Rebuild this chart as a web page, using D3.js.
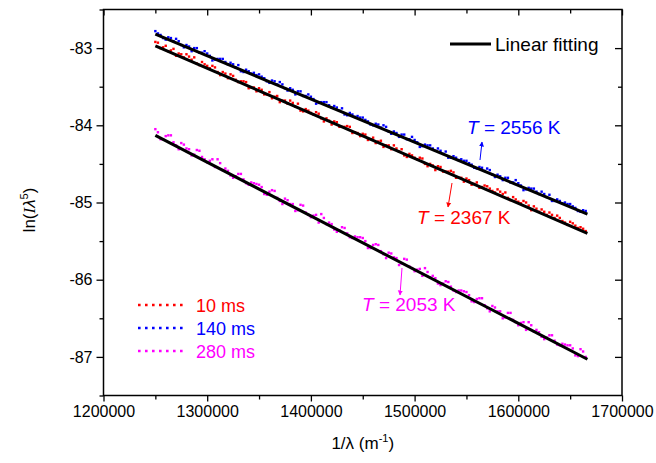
<!DOCTYPE html>
<html><head><meta charset="utf-8">
<script src="https://cdn.jsdelivr.net/npm/d3@7/dist/d3.min.js"></script>
<style>body{margin:0;background:#fff}svg{display:block;font-family:"Liberation Sans",Arial,sans-serif}</style>
</head><body><svg id="c" width="656" height="463"></svg>
<script>
const xStart = 1250000, xStep = 5000;
const xValues = d3.range(84).map(i => xStart + i * xStep);
const xMid = d3.range(83).map(i => xStart + xStep / 2 + i * xStep);
const y10ms = [-82.92,-83.00,-82.97,-83.03,-83.10,-83.08,-83.08,-83.15,-83.20,-83.18,-83.23,-83.23,-83.31,-83.31,-83.39,-83.36,-83.44,-83.43,-83.52,-83.51,-83.52,-83.60,-83.57,-83.63,-83.70,-83.68,-83.68,-83.76,-83.81,-83.79,-83.84,-83.83,-83.91,-83.91,-83.99,-83.96,-84.02,-84.01,-84.10,-84.10,-84.11,-84.19,-84.16,-84.21,-84.28,-84.26,-84.26,-84.34,-84.39,-84.37,-84.42,-84.42,-84.50,-84.50,-84.58,-84.54,-84.60,-84.59,-84.68,-84.68,-84.69,-84.77,-84.74,-84.80,-84.79,-84.85,-84.83,-84.89,-84.94,-84.93,-84.99,-84.98,-85.04,-85.05,-85.12,-85.12,-85.13,-85.20,-85.20,-85.26,-85.25,-85.30,-85.32,-85.37];
const y10msMid = [-82.93,-82.99,-83.04,-83.01,-83.07,-83.12,-83.11,-83.12,-83.22,-83.21,-83.26,-83.25,-83.35,-83.33,-83.34,-83.41,-83.43,-83.44,-83.51,-83.56,-83.54,-83.60,-83.65,-83.62,-83.68,-83.72,-83.71,-83.72,-83.82,-83.81,-83.86,-83.85,-83.95,-83.94,-83.95,-84.02,-84.02,-84.02,-84.09,-84.14,-84.12,-84.18,-84.23,-84.20,-84.26,-84.31,-84.30,-84.31,-84.41,-84.39,-84.44,-84.43,-84.53,-84.52,-84.53,-84.60,-84.60,-84.61,-84.68,-84.73,-84.71,-84.76,-84.81,-84.78,-84.82,-84.87,-84.86,-84.87,-84.97,-84.96,-85.01,-85.00,-85.10,-85.08,-85.09,-85.16,-85.16,-85.17,-85.24,-85.29,-85.27,-85.33,-85.34];
const y140ms = [-82.78,-82.83,-82.89,-82.87,-82.88,-82.96,-82.96,-83.04,-83.00,-83.06,-83.07,-83.16,-83.14,-83.14,-83.21,-83.21,-83.22,-83.31,-83.30,-83.32,-83.34,-83.39,-83.45,-83.43,-83.44,-83.52,-83.52,-83.60,-83.56,-83.62,-83.63,-83.72,-83.70,-83.70,-83.77,-83.77,-83.78,-83.87,-83.86,-83.88,-83.90,-83.95,-84.00,-83.99,-84.00,-84.08,-84.08,-84.15,-84.12,-84.18,-84.19,-84.28,-84.25,-84.26,-84.33,-84.33,-84.34,-84.42,-84.42,-84.44,-84.46,-84.51,-84.56,-84.55,-84.56,-84.64,-84.64,-84.71,-84.68,-84.74,-84.75,-84.84,-84.81,-84.82,-84.89,-84.89,-84.90,-84.98,-84.98,-85.00,-85.02,-85.07,-85.12,-85.11];
const y140msMid = [-82.81,-82.87,-82.86,-82.91,-82.91,-82.99,-82.98,-83.00,-83.06,-83.04,-83.10,-83.15,-83.14,-83.18,-83.19,-83.25,-83.30,-83.28,-83.33,-83.35,-83.37,-83.43,-83.42,-83.47,-83.47,-83.55,-83.54,-83.56,-83.62,-83.60,-83.66,-83.71,-83.70,-83.74,-83.75,-83.81,-83.86,-83.84,-83.89,-83.90,-83.93,-83.99,-83.98,-84.03,-84.02,-84.11,-84.10,-84.12,-84.18,-84.15,-84.22,-84.27,-84.26,-84.30,-84.30,-84.37,-84.42,-84.40,-84.45,-84.46,-84.49,-84.55,-84.54,-84.59,-84.58,-84.67,-84.66,-84.68,-84.74,-84.71,-84.78,-84.83,-84.82,-84.86,-84.86,-84.93,-84.98,-84.96,-85.01,-85.02,-85.05,-85.11,-85.10];
const y280ms = [-84.05,-84.18,-84.14,-84.13,-84.26,-84.23,-84.30,-84.39,-84.32,-84.41,-84.48,-84.44,-84.44,-84.58,-84.59,-84.68,-84.63,-84.70,-84.77,-84.75,-84.77,-84.89,-84.86,-84.85,-84.98,-84.95,-85.02,-85.11,-85.03,-85.13,-85.19,-85.16,-85.15,-85.28,-85.28,-85.38,-85.32,-85.40,-85.46,-85.45,-85.46,-85.59,-85.55,-85.55,-85.67,-85.65,-85.71,-85.81,-85.73,-85.83,-85.89,-85.86,-85.85,-85.97,-85.98,-86.07,-86.02,-86.09,-86.16,-86.14,-86.16,-86.28,-86.25,-86.24,-86.37,-86.34,-86.41,-86.50,-86.43,-86.52,-86.59,-86.55,-86.55,-86.67,-86.68,-86.77,-86.72,-86.79,-86.85,-86.84,-86.85,-86.98,-86.90,-87.00];
const y280msMid = [-84.09,-84.18,-84.13,-84.22,-84.31,-84.25,-84.31,-84.38,-84.33,-84.44,-84.46,-84.54,-84.49,-84.56,-84.65,-84.66,-84.63,-84.75,-84.74,-84.76,-84.80,-84.90,-84.84,-84.94,-85.02,-84.97,-85.02,-85.10,-85.04,-85.16,-85.17,-85.26,-85.20,-85.26,-85.35,-85.36,-85.33,-85.45,-85.44,-85.45,-85.50,-85.59,-85.54,-85.63,-85.72,-85.66,-85.72,-85.79,-85.74,-85.85,-85.87,-85.95,-85.90,-85.95,-86.05,-86.05,-86.03,-86.14,-86.14,-86.15,-86.20,-86.29,-86.24,-86.33,-86.41,-86.36,-86.41,-86.49,-86.43,-86.55,-86.56,-86.65,-86.59,-86.65,-86.74,-86.75,-86.72,-86.84,-86.83,-86.85,-86.89,-86.99,-86.93];
const seriesNames = ["10 ms", "140 ms", "280 ms"];
const seriesColors = ["#ff0000", "#0000ff", "#ff00ff"];
const fitX = [1250000, 1666667];
const fitStartY = [-82.97, -82.82, -84.13];
const fitEndY = [-85.40, -85.15, -87.03];
const tempLabels = ["2367 K", "2556 K", "2053 K"];
const xTicks = [1200000, 1300000, 1400000, 1500000, 1600000, 1700000];
const yTicks = [-87, -86, -85, -84, -83];

const svg = d3.select("#c");
const m = {l: 103.5, r: 622, t: 9.5, b: 395.5};
const x = d3.scaleLinear().domain([1200000, 1700000]).range([m.l, m.r]);
const y = d3.scaleLinear().domain([-87.5, -82.5]).range([m.b, m.t]);
const ySeries = [[y10ms, y10msMid], [y140ms, y140msMid], [y280ms, y280msMid]];

// dots
ySeries.forEach((pair, s) => {
  const pts = pair[0].map((v, i) => [xValues[i], v]).concat(pair[1].map((v, i) => [xMid[i], v]));
  svg.append("g").selectAll("rect").data(pts).join("rect")
    .attr("x", d => x(d[0]) - 1.2).attr("y", d => y(d[1]) - 1.2)
    .attr("width", 2.4).attr("height", 2.4).attr("fill", seriesColors[s]);
});
// fits
fitStartY.forEach((v, s) => {
  svg.append("line").attr("x1", x(fitX[0])).attr("y1", y(v))
    .attr("x2", x(fitX[1])).attr("y2", y(fitEndY[s]))
    .attr("stroke", "#000").attr("stroke-width", 3);
});

// axes
const fs = 16;
const plain = d => String(d);
const minorX = d3.range(1250000, 1700000, 100000);
const minorY = [-87.5, -86.5, -85.5, -84.5, -83.5, -82.5];
svg.append("g").attr("transform", `translate(0,${m.b})`)
  .call(d3.axisBottom(x).tickValues(xTicks).tickFormat(plain).tickSize(6).tickPadding(4));
svg.append("g").attr("transform", `translate(0,${m.b})`)
  .call(d3.axisBottom(x).tickValues(minorX).tickFormat("").tickSize(4));
svg.append("g").attr("transform", `translate(${m.l},0)`)
  .call(d3.axisLeft(y).tickValues(yTicks).tickFormat(plain).tickSize(7).tickPadding(4));
svg.append("g").attr("transform", `translate(${m.l},0)`)
  .call(d3.axisLeft(y).tickValues(minorY).tickFormat("").tickSize(4));
svg.append("g").attr("transform", `translate(0,${m.t})`)
  .call(d3.axisBottom(x).tickValues(xTicks).tickFormat("").tickSize(6));
svg.append("g").attr("transform", `translate(0,${m.t})`)
  .call(d3.axisBottom(x).tickValues(minorX).tickFormat("").tickSize(4));
svg.append("g").attr("transform", `translate(${m.r},0)`)
  .call(d3.axisLeft(y).tickValues(yTicks).tickFormat("").tickSize(7));
svg.append("g").attr("transform", `translate(${m.r},0)`)
  .call(d3.axisLeft(y).tickValues(minorY.slice(1, 5)).tickFormat("").tickSize(4));
svg.selectAll(".tick line").attr("stroke", "#000").attr("stroke-width", 1.3);
svg.selectAll(".domain").remove();
svg.append("rect").attr("x", m.l).attr("y", m.t).attr("width", m.r - m.l).attr("height", m.b - m.t)
  .attr("fill", "none").attr("stroke", "#000").attr("stroke-width", 1.5);
svg.selectAll(".tick text").attr("font-size", fs).attr("font-family", "Liberation Sans, Arial").attr("fill", "#000");

// axis titles
const xt = svg.append("text").attr("x", (m.l + m.r) / 2).attr("y", 449).attr("text-anchor", "middle").attr("font-size", 17);
xt.append("tspan").text("1/λ (m");
xt.append("tspan").attr("font-size", 11).attr("dy", -7).text("-1");
xt.append("tspan").attr("dy", 7).text(")");
const yt = svg.append("text").attr("transform", "translate(35,210) rotate(-90)").attr("text-anchor", "middle").attr("font-size", 17);
yt.append("tspan").text("ln(");
yt.append("tspan").attr("font-style", "italic").attr("font-family", "Liberation Serif").text("I");
yt.append("tspan").attr("font-style", "italic").text("λ");
yt.append("tspan").attr("font-size", 11).attr("dy", -7).text("5");
yt.append("tspan").attr("dy", 7).text(")");

// legend top-right
svg.append("line").attr("x1", 450).attr("x2", 491).attr("y1", 44).attr("y2", 44).attr("stroke", "#000").attr("stroke-width", 3);
svg.append("text").attr("x", 495).attr("y", 50.5).attr("font-size", 19).text("Linear fitting");

// legend bottom-left
seriesNames.forEach((n, s) => {
  const ly = 305 + s * 23;
  svg.append("line").attr("x1", 138).attr("x2", 184).attr("y1", ly).attr("y2", ly)
    .attr("stroke", seriesColors[s]).attr("stroke-width", 2.6).attr("stroke-dasharray", "2.6,4.4");
  svg.append("text").attr("x", 196).attr("y", ly + 6.5).attr("font-size", 18).attr("fill", seriesColors[s]).text(n);
});

// annotations
const defs = svg.append("defs");
seriesColors.forEach((c, s) => {
  defs.append("marker").attr("id", "ah" + s).attr("viewBox", "0 0 10 10").attr("refX", 9).attr("refY", 5)
    .attr("markerWidth", 5).attr("markerHeight", 6).attr("orient", "auto")
    .append("path").attr("d", "M0,0L10,5L0,10z").attr("fill", c);
});
const annos = [
  {s: 1, tx: 467, ty: 133.5, ax1: 480, ay1: 160, ax2: 482, ay2: 142},
  {s: 0, tx: 417, ty: 223.5, ax1: 452, ay1: 183, ax2: 448, ay2: 207},
  {s: 2, tx: 362, ty: 311, ax1: 402, ay1: 268, ax2: 400, ay2: 295}
];
annos.forEach(a => {
  svg.append("line").attr("x1", a.ax1).attr("y1", a.ay1).attr("x2", a.ax2).attr("y2", a.ay2)
    .attr("stroke", seriesColors[a.s]).attr("stroke-width", 1).attr("marker-end", `url(#ah${a.s})`);
  const t = svg.append("text").attr("x", a.tx).attr("y", a.ty).attr("font-size", 19).attr("fill", seriesColors[a.s]);
  t.append("tspan").attr("font-style", "italic").text("T");
  t.append("tspan").text(" = " + tempLabels[a.s]);
});
</script></body></html>
